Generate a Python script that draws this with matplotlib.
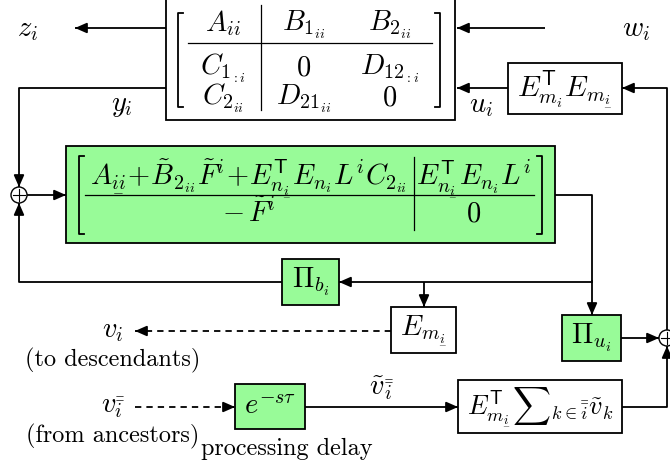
import matplotlib
matplotlib.use("Agg")
import matplotlib.pyplot as plt
from matplotlib.patches import Rectangle, Circle

plt.rcParams['mathtext.fontset'] = 'cm'
plt.rcParams['font.family'] = 'cmr10'

# plant matrix entries (row by row)
plant_rows = [[r'$A_{ii}$', r'$B_{1_{ii}}$', r'$B_{2_{ii}}$'],
              [r'$C_{1_{:i}}$', r'$0$', r'$D_{12_{:i}}$'],
              [r'$C_{2_{ii}}$', r'$D_{21_{ii}}$', r'$0$']]

# controller matrix entries
ctrl_rows = [[r'$A_{\underset{-}{ii}}\!+\!\tilde{B}_{2_{\underset{-}{ii}}}\tilde{F}^i\!+\!E_{n_{\underset{-}{i}}}^{\mathsf{T}}E_{n_i}L^iC_{2_{\underset{-}{ii}}}$',
              r'$E_{n_{\underset{-}{i}}}^{\mathsf{T}}E_{n_i}L^i$'],
             [r'$-\,\tilde{F}^i$', r'$0$']]

# block labels
blk_sel = r'$E_{m_i}^{\mathsf{T}}E_{m_{\underset{-}{i}}}$'
blk_pib = r'$\Pi_{b_i}$'
blk_piu = r'$\Pi_{u_i}$'
blk_em = r'$E_{m_{\underset{-}{i}}}$'
blk_delay = r'$e^{-s\tau}$'
blk_sum = r'$E_{m_{\underset{-}{i}}}^{\mathsf{T}}{\sum}_{k{\in}\bar{\bar{i}}}\tilde{v}_k$'

# signal names
sig_z, sig_w, sig_y, sig_u = r'$z_i$', r'$w_i$', r'$y_i$', r'$u_i$'
sig_v, sig_vin, sig_vt = r'$v_i$', r'$v_{\bar{\bar{i}}}$', r'$\tilde{v}_{\bar{\bar{i}}}$'
notes = ['(to descendants)', '(from ancestors)', 'processing delay']

GREEN = '#98fb98'
LW = 1.3
FS = 17.5   # plain text
MS = 20.5   # math

fig = plt.figure(figsize=(6.7, 4.67), dpi=100)
ax = fig.add_axes([0, 0, 1, 1])
ax.set_xlim(0, 670)
ax.set_ylim(467, 0)
ax.axis('off')


def box(x0, y0, x1, y1, fc='white', label=None, fs=MS):
    ax.add_patch(Rectangle((x0, y0), x1 - x0, y1 - y0, fc=fc, ec='black', lw=LW, zorder=2))
    if label:
        ax.text((x0 + x1) / 2, (y0 + y1) / 2, label, ha='center', va='center', fontsize=fs, zorder=3)


def arrow(pts, dashed=False):
    xs = [p[0] for p in pts]
    ys = [p[1] for p in pts]
    ls = (0, (3.5, 2.8)) if dashed else '-'
    ax.plot(xs, ys, color='black', lw=LW, ls=ls, zorder=1, solid_capstyle='butt')
    (x0, y0), (x1, y1) = pts[-2], pts[-1]
    dx, dy = x1 - x0, y1 - y0
    n = (dx ** 2 + dy ** 2) ** 0.5
    ax.annotate('', xy=(x1, y1), xytext=(x1 - dx / n * 2, y1 - dy / n * 2),
                arrowprops=dict(arrowstyle='-|>,head_length=0.5,head_width=0.22', color='black', lw=LW,
                                mutation_scale=14, shrinkA=0, shrinkB=0), zorder=4)


def line(pts):
    ax.plot([p[0] for p in pts], [p[1] for p in pts], color='black', lw=LW, zorder=1)


def bracket(xl, xr, y0, y1, w=5):
    for x, s in ((xl, 1), (xr, -1)):
        ax.plot([x + s * w, x, x, x + s * w], [y0, y0, y1, y1], color='black', lw=LW, zorder=3)


def summer(x, y, r=8):
    ax.add_patch(Circle((x, y), r, fc='white', ec='black', lw=1.0, zorder=3))
    ax.plot([x - r * 0.7, x + r * 0.7], [y, y], color='black', lw=0.8, zorder=4)
    ax.plot([x, x], [y - r * 0.7, y + r * 0.7], color='black', lw=0.8, zorder=4)


def label(x, y, s, fs=MS, va='center'):
    ax.text(x, y, s, ha='center', va=va, fontsize=fs, zorder=3)


# plant block (top edge runs off the picture)
box(166, -10, 455, 120)
bracket(178, 440, 13, 107)
ax.plot([261, 261], [5, 110], color='black', lw=0.9, zorder=3)
ax.plot([188, 432], [43, 43], color='black', lw=0.9, zorder=3)
for row, yy in zip(plant_rows, [31, 75, 105]):
    for lab, xx in zip(row, [223, 304, 390]):
        label(xx, yy, lab, va='baseline')

arrow([(166, 28), (75, 28)])
label(28, 30, sig_z)
arrow([(545, 28), (457, 28)])
label(636, 30, sig_w)

# selection block feeding u_i
box(508, 63, 622, 114, label=blk_sel, fs=21)
arrow([(508, 88), (457, 88)])
label(481, 106, sig_u)

# y_i down to summing junction
arrow([(166, 88), (19, 88), (19, 187)])
label(122, 106, sig_y)
summer(19, 195)
arrow([(27, 195), (66, 195)])

# controller block
box(66, 146, 555, 243, fc=GREEN)
bracket(79, 542, 156, 234)
ax.plot([414, 414], [157, 230], color='black', lw=0.9, zorder=3)
ax.plot([85, 534], [195, 195], color='black', lw=0.9, zorder=3)
for row, yy in zip(ctrl_rows, [183, 222]):
    for lab, xx in zip(row, [249, 474]):
        label(xx, yy, lab, va='baseline')

# controller output
line([(555, 195), (592, 195), (592, 282)])
arrow([(592, 282), (339, 282)])
box(282, 259, 339, 305, fc=GREEN, label=blk_pib)
arrow([(282, 282), (19, 282), (19, 203)])
arrow([(424, 282), (424, 307)])
arrow([(592, 280), (592, 315)])
box(562, 315, 621, 361, fc=GREEN, label=blk_piu)

# broadcast to descendants
box(391, 307, 456, 353, label=blk_em)
arrow([(391, 331), (135, 331)], dashed=True)
label(113, 331, sig_v)
label(113, 360, notes[0], fs=FS)

# from ancestors
label(113, 407, sig_vin)
arrow([(135, 407), (235, 407)], dashed=True)
label(113, 436, notes[1], fs=FS)
box(235, 384, 305, 429, fc=GREEN, label=blk_delay)
label(287, 449, notes[2], fs=FS)
arrow([(305, 407), (458, 407)])
label(381, 388, sig_vt)
box(458, 380, 622, 433, label=blk_sum, fs=19)

# right summing junction
arrow([(621, 338), (659, 338)])
arrow([(622, 407), (667, 407), (667, 346)])
summer(667, 338)
arrow([(667, 330), (667, 88), (622, 88)])

fig.savefig('out.png', dpi=100)
